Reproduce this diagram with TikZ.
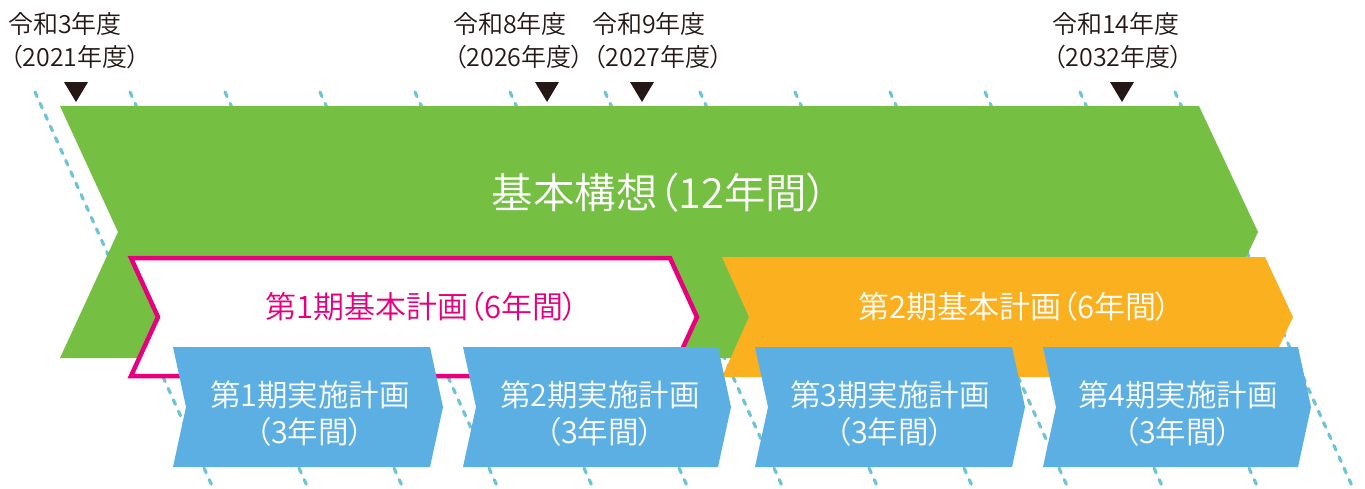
\documentclass[tikz,border=0pt]{standalone}
\usepackage{fontspec}
\setmainfont{Noto Sans CJK JP}[UprightFont=* DemiLight, RawFeature=+palt]
\definecolor{kgreen}{HTML}{75BF43}
\definecolor{kpink}{HTML}{E6007E}
\definecolor{korange}{HTML}{FBB01F}
\definecolor{kblue}{HTML}{5BAFE2}
\definecolor{kdash}{HTML}{6EC4D2}
\definecolor{kdark}{HTML}{231815}
\tikzset{
  dashline/.style={draw=kdash, line width=3.2pt, line cap=round, dash pattern=on 5pt off 7.5pt},
  yearlbl/.style={anchor=base west, inner sep=0pt, text=kdark, font=\fontsize{25}{28}\selectfont},
  bigtxt/.style={anchor=base, inner sep=0pt, text=white, font=\fontsize{41.5}{46}\selectfont},
  midtxt/.style={anchor=base, inner sep=0pt, font=\fontsize{31}{34}\selectfont},
  bluetxt/.style={anchor=base, inner sep=0pt, text=white, font=\fontsize{30.5}{34}\selectfont},
  marker/.style={fill=kdark, draw=none},
}
\begin{document}
\begin{tikzpicture}[x=1pt,y=-1pt]
\useasboundingbox (0,0) rectangle (1365,488);
% dashed year lines
\foreach \k in {0,...,12}{
  \draw[dashline] ({35+95*\k},92) -- ({35+95*\k+178},488);
}
% basic concept (green)
\fill[kgreen] (60,106) -- (1199,106) -- (1258,232) -- (1199,358) -- (60,358) -- (118,232) -- cycle;
% 1st basic plan (pink outline)
\draw[kpink, fill=white, line width=4.5pt, miter limit=10] (131,258) -- (670,258) -- (697,317) -- (670,376) -- (131,376) -- (158,317) -- cycle;
% 2nd basic plan (orange)
\fill[korange] (722,257) -- (1265,257) -- (1293,317) -- (1265,377) -- (722,377) -- (749,317) -- cycle;
% implementation plans (blue)
\foreach \l/\r in {173/430, 463/718, 755/1012, 1043/1298}{
  \fill[kblue] (\l,347) -- (\r,347) -- ({\r+13},407) -- (\r,467) -- (\l,467) -- ({\l+13},407) -- cycle;
}
% markers
\foreach \c in {76, 547, 642, 1122}{
  \fill[marker] ({\c-12},82) -- ({\c+12},82) -- (\c,102) -- cycle;
}
% year labels
\node[yearlbl] (y1a) at (8,33) {令和3年度};
\node[yearlbl] (y1b) at (10,66) {（2021年度）};
\node[yearlbl] (y2a) at (453,33) {令和8年度};
\node[yearlbl] (y2b) at (454,66) {（2026年度）};
\node[yearlbl] (y3a) at (592,33) {令和9年度};
\node[yearlbl] (y3b) at (593,66) {（2027年度）};
\node[yearlbl] (y4a) at (1052,33) {令和14年度};
\node[yearlbl] (y4b) at (1053,66) {（2032年度）};
% texts
\node[bigtxt] (kihon) at (660,208) {基本構想（12年間）};
\node[midtxt, text=kpink] (plan1) at (422,318) {第1期基本計画（6年間）};
\node[midtxt, text=white] (plan2) at (1015,318) {第2期基本計画（6年間）};
\node[bluetxt] (j1a) at (310,406) {第1期実施計画};
\node[bluetxt] (j1b) at (310,443) {（3年間）};
\node[bluetxt] (j2a) at (600,406) {第2期実施計画};
\node[bluetxt] (j2b) at (600,443) {（3年間）};
\node[bluetxt] (j3a) at (890,406) {第3期実施計画};
\node[bluetxt] (j3b) at (890,443) {（3年間）};
\node[bluetxt] (j4a) at (1178,406) {第4期実施計画};
\node[bluetxt] (j4b) at (1178,443) {（3年間）};
\end{tikzpicture}
\end{document}
